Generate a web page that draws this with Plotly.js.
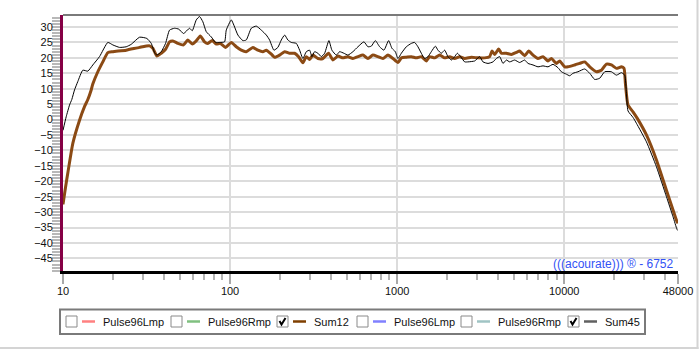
<!DOCTYPE html>
<html>
<head>
<meta charset="utf-8">
<script src="https://cdn.plot.ly/plotly-3.0.1.min.js"></script>
<style>
  html, body { margin: 0; padding: 0; background: #ffffff; }
  #chart { width: 700px; height: 350px; }
</style>
</head>
<body>
<div id="chart"></div>
<script>
// ---------------- DATA ----------------
const sum12Freq = [10, 10.35, 10.71, 11.45, 12.56, 13.45, 14.08, 14.75, 15.08, 16.16, 17.31, 18.55, 19.87, 23.9, 28.72,
  32.96, 34.5, 36.46, 38.73, 41.1, 43.43, 45.45, 48.69, 52.67, 55.88, 59.38, 62.75, 66.31, 70.35, 73.63, 78.23, 82.67,
  87.36, 93.99, 101.7, 108.9, 116.7, 125, 136.9, 146.7, 157.2, 164.8, 176.5, 184.7, 197.9, 212.1, 227.2, 243.4, 257.2,
  272.9, 286, 299.3, 313.2, 335.6, 359.6, 388.9, 412.7, 442.1, 473.6, 507.6, 543.7, 582.6, 624.1, 668.7, 716.3, 767.4,
  822.2, 880.8, 943.7, 1011, 1060, 1135, 1216, 1303, 1396, 1496, 1565, 1677, 1797, 1925, 2063, 2210, 2367, 2537, 2781,
  3047, 3342, 3580, 3696, 3835, 4053, 4207, 4507, 4829, 5174, 5414, 5800, 6131, 6506, 6969, 7467, 8000, 8382, 8981,
  9400, 10070, 10540, 11560, 12380, 13270, 14220, 15590, 16700, 17890, 19170, 20540, 22010, 22810, 23250, 24100, 25820,
  27450, 31060, 35660, 40930, 44820, 47350, 48000];
const sum12Db = [-27.5, -22, -17, -7.7, -0.2, 4.2, 6.5, 9.6, 11.5, 15.5, 18.7, 21.7, 22.0, 22.5, 23.4,
  23.9, 23.1, 20.6, 21.5, 22.8, 25.2, 25.5, 24.7, 24.2, 25.8, 24.5, 25.5, 27.1, 25.2, 24.7, 25.6, 24.5,
  24.7, 23.4, 25.0, 23.6, 22.5, 22.0, 23.4, 22.5, 22.0, 22.5, 21.2, 20.2, 20.9, 22.0, 21.5, 21.5, 20.4,
  18.4, 20.4, 19.5, 20.9, 19.8, 19.8, 21.5, 19.3, 20.6, 20.0, 20.4, 19.8, 20.4, 20.9, 19.8, 20.9, 20.4,
  19.8, 20.9, 19.8, 18.5, 20.0, 20.2, 20.4, 20.0, 20.4, 19.0, 20.4, 20.0, 20.9, 20.0, 20.4, 19.8, 20.4, 19.8, 20.2,
  20.0, 20.0, 20.4, 22.2, 21.1, 22.9, 21.5, 21.5, 21.1, 21.8, 22.2, 20.7, 22.2, 20.9, 19.8, 20.4, 19.0, 19.8, 18.2,
  19.0, 17.1, 17.1, 17.7, 18.2, 18.7, 17.1, 15.5, 16.0, 18.0, 17.7, 16.6, 17.1, 16.6, 11.7, 4.7, 2.5,
  0.3, -5.0, -13.1, -22.9, -29.3, -33.1, -33.6];

const sum45Freq = [10, 10.45, 10.94, 11.29, 11.72, 12.26, 13.14, 14.08, 15.08, 16.54, 18.55, 19.87, 21.79, 23.9, 25.61,
  28.72, 31.76, 33.75, 35.32, 36.46, 38.73, 41.1, 43.43, 46.53, 49.36, 52.67, 57.21, 59.38, 62.75, 65.68, 68.73, 72.03,
  77.17, 81.88, 86.52, 92.71, 94.9, 101.7, 105.4, 111.4, 119.3, 125, 134, 143.5, 153.8, 164.8, 172.4, 183, 193.3,
  202.6, 212.1, 221.9, 232.6, 249.2, 260.8, 272.9, 286, 299.3, 309, 320.6, 335.6, 351.7, 368.1, 390.5, 407, 432.5,
  452.7, 480.3, 507.6, 543.7, 582.6, 632.8, 668.7, 700.8, 740.6, 785.8, 833.7, 889.5, 931, 975.4, 1011, 1060, 1135,
  1216, 1273, 1332, 1396, 1461, 1529, 1602, 1693, 1755, 1839, 1925, 2015, 2112, 2210, 2294, 2400, 2537, 2655, 2911,
  3119, 3265, 3499, 3748, 3927, 4111, 4301, 4507, 4718, 5053, 5414, 5800, 6072, 6506, 6969, 7467, 8000, 8570, 9183,
  9620, 10310, 10790, 11290, 12090, 13270, 14220, 15230, 16320, 17480, 19170, 20540, 22010, 23030, 23580, 24100,
  25820, 27060, 31060, 35660, 40930, 44820, 47350, 48000];
const sum45Db = [-3.5, 0.9, 4.7, 6.5, 9.6, 12.3, 16.0, 15.7, 17.7, 20.4, 25.0, 24.2, 23.4, 23.6, 24.4,
  26.7, 26.3, 24.7, 21.7, 20.9, 22.0, 24.7, 29.0, 29.6, 29.3, 27.9, 29.6, 28.8, 32.3, 33.4, 31.7, 28.5,
  26.8, 25.0, 25.0, 25.2, 29.0, 32.3, 30.6, 27.4, 25.6, 25.8, 29.6, 30.3, 29.0, 27.4, 25.8, 22.5, 23.4,
  25.8, 27.4, 25.8, 25.0, 24.7, 22.5, 19.8, 22.0, 22.5, 20.4, 22.0, 21.5, 20.4, 21.5, 25.6, 22.5, 20.9,
  22.0, 21.5, 20.9, 22.0, 23.6, 25.2, 23.6, 23.8, 25.6, 23.6, 22.5, 25.6, 23.1, 22.0, 19.8, 21.5, 23.6,
  24.7, 25.0, 23.6, 21.5, 19.8, 20.4, 22.0, 23.8, 22.5, 21.5, 22.5, 20.4, 19.3, 20.4, 21.5, 20.4, 18.7, 18.7, 19.0,
  20.4, 18.7, 18.2, 18.7, 19.8, 20.4, 18.2, 19.3, 18.7, 19.3, 18.5, 19.3, 18.2, 17.7, 17.1, 17.4, 17.1, 17.9, 16.8,
  15.5, 14.7, 14.2, 15.0, 15.5, 16.4, 15.0, 13.0, 13.4, 15.5, 15.5, 14.4, 15.2, 14.4, 8.5, 2.8,
  0.7, -1.2, -7.2, -15.3, -25.0, -31.5, -35.6, -36.0];

const xTickVals = [10, 100, 1000, 10000, 48000];
const xTickText = ['10', '100', '1000', '10000', '48000'];

const legendNames = ['Pulse96Lmp', 'Pulse96Rmp', 'Sum12', 'Pulse96Lmp', 'Pulse96Rmp', 'Sum45'];
const legendChecked = [false, false, true, false, false, true];
const legendColors = ['#ff8080', '#80c080', '#7f3f00', '#8080ff', '#a0c4c4', '#606060'];

const watermark = '(((acourate))) \u00ae - 6752';

// ---------------- LAYOUT HELPERS ----------------
const L = 63, T = 15, W = 615, H = 256;
const px = x => (x - L) / W;
const py = y => (T + H - y) / H;
const FONT = 'Liberation Sans, Arial, sans-serif';

// minor ticks on the log x axis (2..9 per decade)
const minorX = [];
for (let k = 1; k <= 4; k++) {
  for (let d = 2; d <= 9; d++) {
    const v = d * Math.pow(10, k);
    if (v < 48000) minorX.push(v);
  }
}

const traces = [
  { x: sum12Freq, y: sum12Db, type: 'scatter', mode: 'lines', name: 'Sum12',
    line: { color: '#8b4a14', width: 3, shape: 'spline', smoothing: 0.5 } },
  { x: sum45Freq, y: sum45Db, type: 'scatter', mode: 'lines', name: 'Sum45',
    line: { color: '#000000', width: 1, shape: 'spline', smoothing: 0.5 } }
];

const shapes = [
  // top frame line
  { type: 'line', xref: 'paper', yref: 'paper', x0: 0, x1: 1, y0: 1, y1: 1,
    line: { color: '#7a7a7a', width: 2 } },
  // outer window border (right + bottom)
  { type: 'line', xref: 'paper', yref: 'paper', x0: px(697.5), x1: px(697.5), y0: py(0), y1: py(349),
    line: { color: '#d4d4d4', width: 2 } },
  { type: 'line', xref: 'paper', yref: 'paper', x0: px(0), x1: px(698.5), y0: py(348), y1: py(348),
    line: { color: '#d4d4d4', width: 2 } },
  // legend box
  { type: 'rect', xref: 'paper', yref: 'paper', x0: px(60), x1: px(645), y0: py(334), y1: py(309.5),
    line: { color: '#7a7a7a', width: 2 }, fillcolor: 'rgba(0,0,0,0)' }
];
const annotations = [
  { xref: 'paper', yref: 'paper', x: px(676), y: py(264), xanchor: 'right', yanchor: 'middle',
    text: watermark, showarrow: false, font: { family: FONT, size: 12, color: '#3352f5' } }
];

const legendX = [66, 171, 277, 357, 461, 568];
const cbTop = 316, cbBot = 327, cy = 321.5;
legendNames.forEach((name, i) => {
  const cb = legendX[i];
  shapes.push({ type: 'rect', xref: 'paper', yref: 'paper', x0: px(cb), x1: px(cb + 11), y0: py(cbBot), y1: py(cbTop),
    line: { color: '#8a8a8a', width: 1 }, fillcolor: '#ffffff' });
  if (legendChecked[i]) {
    shapes.push({ type: 'path', xref: 'paper', yref: 'paper',
      path: `M ${px(cb + 2.5)} ${py(321)} L ${px(cb + 4.5)} ${py(324.5)} L ${px(cb + 8.5)} ${py(318)}`,
      line: { color: '#000000', width: 2 } });
  }
  shapes.push({ type: 'line', xref: 'paper', yref: 'paper', x0: px(cb + 16), x1: px(cb + 29), y0: py(cy), y1: py(cy),
    line: { color: legendColors[i], width: 2.5 } });
  annotations.push({ xref: 'paper', yref: 'paper', x: px(cb + 35), y: py(cy), xanchor: 'left', yanchor: 'middle',
    text: name, showarrow: false, font: { family: FONT, size: 11, color: '#111111' } });
});

const layout = {
  width: 700, height: 350,
  margin: { l: L, r: 700 - L - W, t: T, b: 350 - T - H, pad: 0 },
  paper_bgcolor: '#ffffff', plot_bgcolor: '#ffffff',
  showlegend: false,
  xaxis: {
    type: 'log', range: [1, Math.log10(48000)],
    tickmode: 'array', tickvals: xTickVals, ticktext: xTickText,
    ticks: 'outside', ticklen: 10, tickwidth: 2, tickcolor: '#a8a8a8',
    ticklabelstandoff: -2,
    showgrid: true, gridcolor: '#dcdcdc', gridwidth: 2,
    showline: true, linecolor: '#000000', linewidth: 3, zeroline: false,
    tickfont: { family: FONT, size: 11, color: '#111111' },
    minor: { tickmode: 'array', tickvals: minorX, ticks: 'outside', ticklen: 6, tickwidth: 2,
      tickcolor: '#b4b4b4', showgrid: false }
  },
  yaxis: {
    range: [-49.1, 33.9], tick0: 0, dtick: 5,
    ticks: 'outside', ticklen: 8, tickwidth: 2, tickcolor: '#b8b8b8',
    ticklabelstandoff: -3,
    showgrid: true, gridcolor: '#dcdcdc', gridwidth: 2,
    showline: true, linecolor: '#850045', linewidth: 3, zeroline: false,
    tickfont: { family: FONT, size: 11, color: '#111111' },
    minor: { tick0: 0, dtick: 1, ticks: 'outside', ticklen: 8, tickwidth: 2, tickcolor: '#b8b8b8', showgrid: false }
  },
  shapes: shapes,
  annotations: annotations
};

Plotly.newPlot('chart', traces, layout, { staticPlot: true, displayModeBar: false });
</script>
</body>
</html>
